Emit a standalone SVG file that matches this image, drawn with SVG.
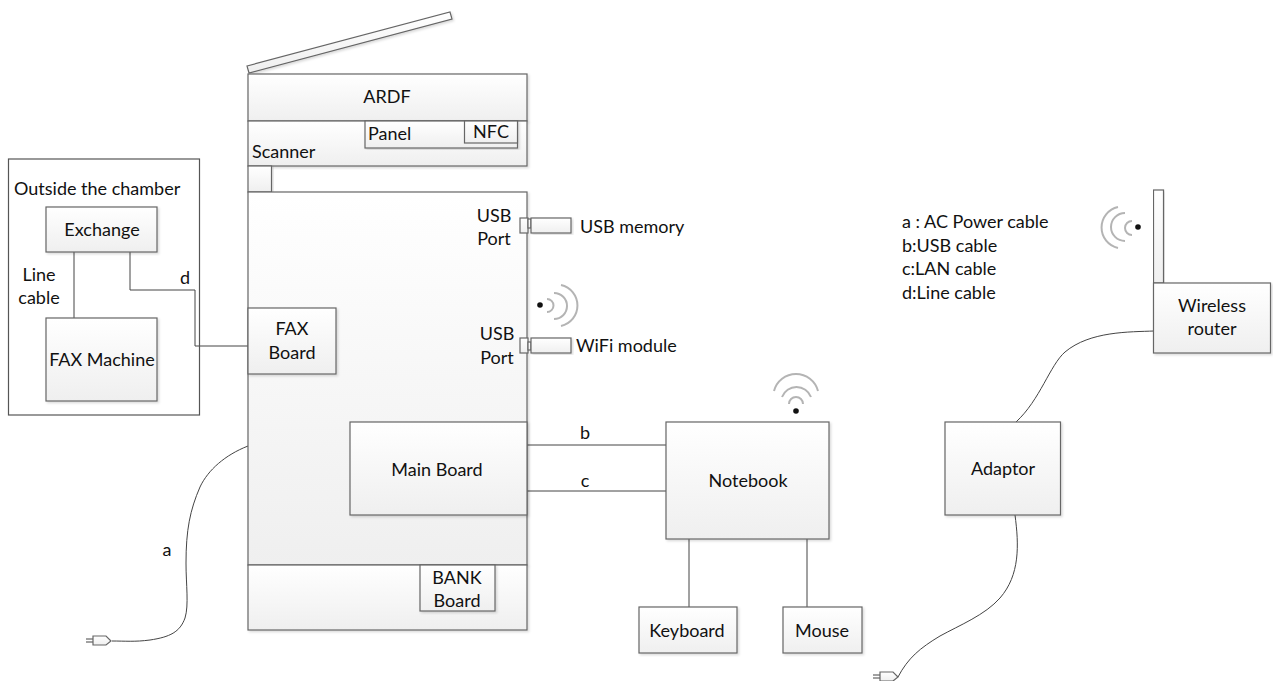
<svg xmlns="http://www.w3.org/2000/svg" width="1273" height="681" viewBox="0 0 1273 681">
<style>
text{font-family:Lato,"Open Sans","Liberation Sans",sans-serif;font-size:18px;fill:#111;text-anchor:middle}
.l{text-anchor:start}
.b{fill:url(#g);stroke:#666;stroke-width:1.2}
.c{fill:none;stroke:#444;stroke-width:1}
.w{fill:none;stroke:#b4b4b4;stroke-width:2}
.d{fill:#111}
</style>
<defs>
<linearGradient id="g" x1="0" y1="0" x2="0" y2="1"><stop offset="0" stop-color="#fff"/><stop offset="1" stop-color="#efefef"/></linearGradient>
<filter id="s" x="-5%" y="-5%" width="112%" height="112%"><feDropShadow dx="1.500" dy="1.500" stdDeviation="1" flood-color="#000" flood-opacity="0.15"/></filter>
</defs>
<g id="connectors">
<path class="c" d="M74 318V252"/>
<path class="c" d="M130 252V290H195V346H248"/>
<path class="c" d="M527 445H666"/>
<path class="c" d="M527 491H666"/>
<path class="c" d="M457 515V565"/>
<path class="c" d="M689 539V607"/>
<path class="c" d="M807 539V607"/>
<path class="c" d="M248 446C225 455 208 470 200 487C190 510 186 530 186 563C186 585 189 605 185 618C180 632 170 637 150 640C135 642 125 641 112 641"/>
<path class="c" d="M1154 331C1130 332 1090 331 1065 352C1050 365 1040 400 1016 422"/>
<path class="c" d="M1015 515C1019 545 1020 575 1000 598C985 615 960 625 940 636C920 648 908 658 898 677"/>
</g>
<g id="lid"><polygon class="b" points="247,66 450,12 452,19 249,73" filter="url(#s)"/></g>
<g id="ardf"><rect class="b" x="248" y="74" width="279" height="47" filter="url(#s)"/><text x="387" y="103">ARDF</text></g>
<g id="scanner"><rect class="b" x="248" y="121" width="279" height="45" filter="url(#s)"/><text class="l" x="252" y="158">Scanner</text></g>
<g id="panel"><rect class="b" x="365" y="121" width="152.500" height="27" filter="url(#s)"/><text class="l" x="368" y="140">Panel</text></g>
<g id="nfc"><rect class="b" x="464.500" y="121" width="53" height="22"/><text x="491" y="138">NFC</text></g>
<g id="scanner-foot"><rect class="b" x="248" y="166" width="23.500" height="26" filter="url(#s)"/></g>
<g id="body"><rect class="b" x="248" y="192" width="279" height="373" filter="url(#s)"/></g>
<g id="base"><rect class="b" x="248" y="565" width="279" height="65" filter="url(#s)"/></g>
<g id="usb-port-1"><text x="494" y="222">USB</text><text x="494" y="245">Port</text><rect class="b" x="520" y="218" width="8" height="15"/><rect class="b" x="528" y="219" width="3" height="9"/></g>
<g id="usb-memory"><rect class="b" x="531" y="218" width="40" height="15" filter="url(#s)"/><text class="l" x="580" y="233">USB memory</text></g>
<g id="usb-port-2"><text x="497" y="340">USB</text><text x="497" y="364">Port</text><rect class="b" x="520" y="338" width="8" height="15"/><rect class="b" x="528" y="342" width="3" height="8"/></g>
<g id="wifi-module"><rect class="b" x="531" y="338" width="40" height="15" filter="url(#s)"/><text class="l" x="576" y="352">WiFi module</text></g>
<g id="wifi-signal-module"><circle class="d" cx="540" cy="305" r="2.800"/><path class="w" d="M547 299A6.500 6.500 0 0 1 547 312M554 293A13 13 0 0 1 554 319M561 285A21 21 0 0 1 561 326"/></g>
<g id="outside"><rect x="8.500" y="159" width="191" height="256" fill="none" stroke="#555" stroke-width="1.200"/><text class="l" x="14" y="195">Outside the chamber</text><text x="39" y="281">Line</text><text x="39" y="304">cable</text><text x="185" y="284">d</text></g>
<g id="exchange"><rect class="b" x="46" y="207" width="111" height="45" filter="url(#s)"/><text x="102" y="236">Exchange</text></g>
<g id="fax-machine"><rect class="b" x="46" y="318" width="111" height="83" filter="url(#s)"/><text x="102" y="366">FAX Machine</text></g>
<g id="fax-board"><rect class="b" x="248" y="308" width="88" height="66" filter="url(#s)"/><text x="292" y="335">FAX</text><text x="292" y="359">Board</text></g>
<g id="main-board"><rect class="b" x="350" y="422" width="177" height="93" filter="url(#s)"/><text x="437" y="476">Main Board</text></g>
<g id="bank-board"><rect class="b" x="420" y="565" width="75" height="46" filter="url(#s)"/><text x="457" y="584">BANK</text><text x="457" y="607">Board</text></g>
<g id="notebook"><rect class="b" x="666" y="422" width="163" height="117" filter="url(#s)"/><text x="748" y="487">Notebook</text></g>
<g id="wifi-signal-notebook"><circle class="d" cx="796" cy="411" r="2.800"/><path class="w" d="M789 404A7 7 0 0 1 803 404M782 397A15.500 15.500 0 0 1 811 397M774 391A22.700 22.700 0 0 1 818 391"/></g>
<g id="keyboard"><rect class="b" x="639" y="607" width="98" height="46" filter="url(#s)"/><text x="687" y="637">Keyboard</text></g>
<g id="mouse"><rect class="b" x="783" y="607" width="79" height="46" filter="url(#s)"/><text x="822" y="637">Mouse</text></g>
<g id="adaptor"><rect class="b" x="945" y="422" width="115.500" height="93" filter="url(#s)"/><text x="1003" y="475">Adaptor</text></g>
<g id="antenna"><rect class="b" x="1153.500" y="190" width="10" height="93" filter="url(#s)"/></g>
<g id="wireless-router"><rect class="b" x="1153.500" y="283" width="117" height="70" filter="url(#s)"/><text x="1212" y="312">Wireless</text><text x="1212" y="335">router</text></g>
<g id="wifi-signal-router"><circle class="d" cx="1138" cy="227" r="2.800"/><path class="w" d="M1132 221A7 7 0 0 0 1132 235M1125 213A14 14 0 0 0 1125 241M1118 207A21 21 0 0 0 1118 248"/></g>
<g id="legend"><text class="l" x="902" y="228">a : AC Power cable</text><text class="l" x="902" y="252">b:USB cable</text><text class="l" x="902" y="275">c:LAN cable</text><text class="l" x="902" y="299">d:Line cable</text></g>
<g id="labels"><text x="167" y="556">a</text><text x="585" y="439">b</text><text x="585" y="487">c</text></g>
<g id="plug-a"><path class="c" d="M86 639H93M86 642H93"/><path class="b" d="M93 636H106L111 641L106 645H93Z"/></g>
<g id="plug-adaptor"><path class="c" d="M873 675H880M873 678H880"/><path class="b" d="M880 672H893L898 677L893 681H880Z"/></g>
</svg>
